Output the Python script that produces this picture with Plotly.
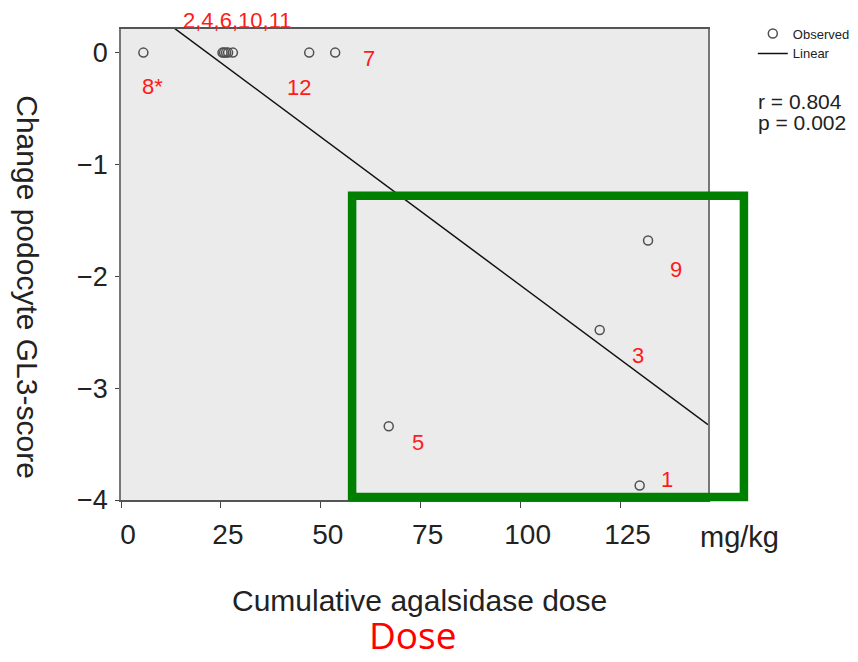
import numpy as np
import plotly.graph_objects as go

# ---- data ----
patients = ["8*", "2", "4", "6", "10", "11", "12", "7", "5", "3", "9", "1"]
dose = [5.6, 25.4, 25.8, 26.3, 26.8, 28.0, 47.1, 53.6, 67.0, 119.8, 131.9, 129.8]
change = [0, 0, 0, 0, 0, 0, 0, 0, -3.34, -2.48, -1.68, -3.87]

x_ticks = [0, 25, 50, 75, 100, 125]
y_ticks = [0, -1, -2, -3, -4]
x_range = [0, 146.9]
y_range = [-4.0, 0.211]

# point labels (text, position in data units)
label_text = ["2,4,6,10,11", "8*", "12", "7", "9", "3", "5", "1"]
label_x = [29.0, 7.95, 44.6, 62.1, 139.0, 129.45, 74.2, 136.7]
label_y = [0.29, -0.306, -0.312, -0.05, -1.94, -2.71, -3.485, -3.82]

slope, intercept = np.polyfit(dose, change, 1)
fit_x = np.array(x_range)
fit_y = intercept + slope * fit_x

fig = go.Figure()
fig.add_trace(go.Scatter(
    x=dose, y=change, mode="markers", name="Observed",
    marker=dict(symbol="circle-open", size=9, color="#505050", line=dict(width=1.5)),
    cliponaxis=False,
))
fig.add_trace(go.Scatter(
    x=fit_x, y=fit_y, mode="lines", name="Linear",
    line=dict(color="#111111", width=1.5),
))

ann = []
for t, lx, ly in zip(label_text, label_x, label_y):
    if ly > y_range[1]:
        yref, yy = "paper", (ly - y_range[0]) / (y_range[1] - y_range[0])
    else:
        yref, yy = "y", ly
    ann.append(dict(x=lx, y=yy, xref="x", yref=yref, text=t, showarrow=False,
                    xanchor="center", yanchor="middle",
                    font=dict(family="Arial", size=22, color="#ff1a1a")))

common = dict(xref="paper", yref="paper", showarrow=False, yanchor="middle")
ann += [
    dict(x=-0.1598, y=0.4513, text="Change podocyte GL3-score", textangle=90, xanchor="center",
         font=dict(family="Arial", size=30, color="#222"), **common),
    dict(x=0.5085, y=-0.214, text="Cumulative agalsidase dose", xanchor="center",
         font=dict(family="Arial", size=30, color="#222"), **common),
    dict(x=1.0544, y=-0.0779, text="mg/kg", xanchor="center",
         font=dict(family="Arial", size=29, color="#222"), **common),
    dict(x=0.498, y=-0.2865, text="Dose", xanchor="center",
         font=dict(family="Open Sans", size=37, color="#ff0000"), **common),
    dict(x=1.0816, y=0.847, text="r = 0.804", xanchor="left",
         font=dict(family="Arial", size=21, color="#222"), **common),
    dict(x=1.0816, y=0.8005, text="p = 0.002", xanchor="left",
         font=dict(family="Arial", size=21, color="#222"), **common),
]

fig.update_layout(
    width=858, height=662,
    margin=dict(l=113, r=157, t=20, b=170),
    paper_bgcolor="white", plot_bgcolor="#ebebeb",
    font=dict(family="Arial", color="#222"),
    showlegend=True,
    legend=dict(x=1.0745, y=1.02, xanchor="left", yanchor="top",
                bgcolor="rgba(0,0,0,0)", font=dict(size=13, color="#222"),
                itemwidth=30, tracegroupgap=0),
    annotations=ann,
    shapes=[dict(type="rect", xref="paper", yref="paper",
                 x0=0.3937, x1=1.0612, y0=0.0064, y1=0.646,
                 line=dict(color="#007f00", width=8.5), fillcolor="rgba(0,0,0,0)",
                 layer="above")],
)
fig.update_xaxes(range=x_range, tickvals=x_ticks, ticks="outside", ticklen=6,
                 tickcolor="#444", showgrid=False, zeroline=False,
                 showline=True, linecolor="#555", linewidth=1.5, mirror=True,
                 tickfont=dict(size=28, color="#222"), ticklabelstandoff=3,
                 ticklabelshift=7)
fig.update_yaxes(range=y_range, tickvals=y_ticks, ticks="outside", ticklen=4,
                 tickcolor="#444", showgrid=False, zeroline=False,
                 showline=True, linecolor="#777", linewidth=1.5, mirror=True,
                 tickfont=dict(size=27, color="#222"), ticklabelstandoff=2)

fig.write_html("out.html")
